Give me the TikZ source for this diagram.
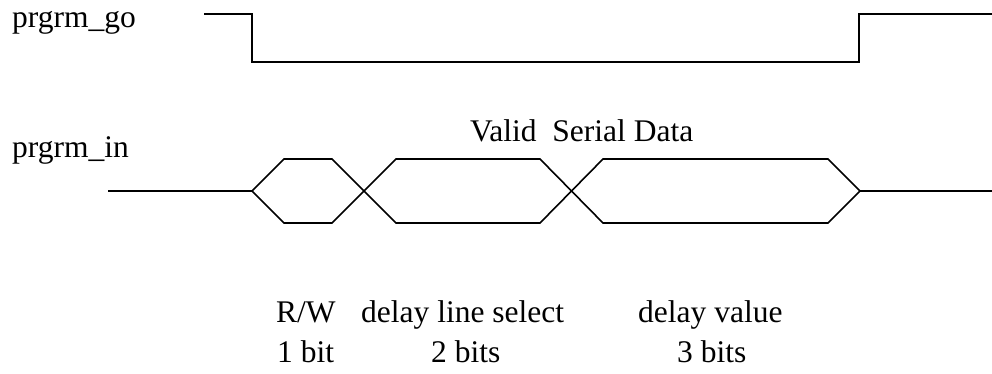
\documentclass[tikz,border=0pt]{standalone}
\usepackage{fontspec}
\setmainfont{Liberation Serif}
\usetikzlibrary{positioning}
\tikzset{
signal/.style={draw=black, line width=1.6pt, line join=miter},
lbl/.style={font=\fontsize{31.5}{38}\selectfont, inner sep=0pt, anchor=base west}
      }

\begin{document}
\begin{tikzpicture}[x=1pt,y=-1pt]
                \useasboundingbox (0,0) rectangle (992,374);
                % signal names
                \node[lbl] (go) at (12,28) {prgrm\_go};
                \node[lbl] (in) at (12,158) {prgrm\_in};
                % strobe
                \draw[signal] (204,14) -- (252,14) -- (252,62) -- (859,62) -- (859,14) -- (992,14);
                % serial data
                \draw[signal] (108,191) -- (252,191) -- (284,159) -- (332,159) -- (396,223) -- (540,223) -- (603,159) -- (828,159) -- (860,191) -- (992,191);
                \draw[signal] (252,191) -- (284,223) -- (332,223) -- (396,159) -- (540,159) -- (603,223) -- (828,223) -- (860,191);
                \node[lbl] (valid) at (470,142) {Valid~ Serial Data};
                % fields
                \node[lbl] (rw) at (276,322) {R/W};
                \node[lbl] (sel) at (361,322) {delay line select};
                \node[lbl] (val) at (638,322) {delay value};
                \node[lbl] (rwbits) at (277,362) {1 bit};
                \node[lbl] (selbits) at (431,362) {2 bits};
                \node[lbl] (valbits) at (677,362) {3 bits};
            \end{tikzpicture}
\end{document}
